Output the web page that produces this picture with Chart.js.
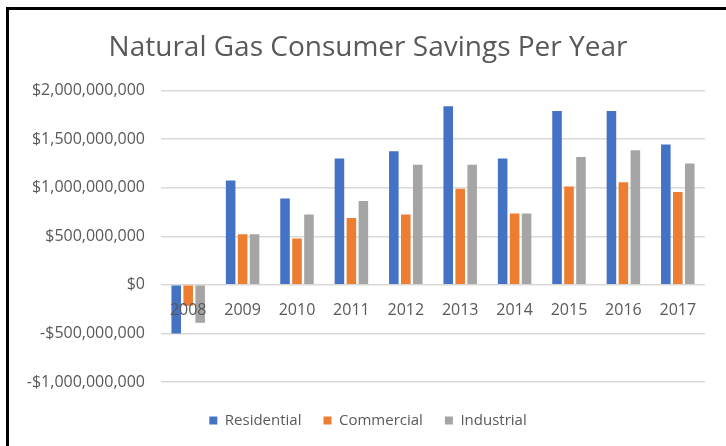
<!DOCTYPE html>
<html>
<head>
<meta charset="utf-8">
<script src="https://cdn.jsdelivr.net/npm/chart.js@4.4.1/dist/chart.umd.min.js"></script>
<style>
  body { margin: 0; background: #fff; }
  .wrap { position: absolute; left: 0; top: 0; width: 726px; height: 446px; }
  .frame {
    position: absolute; left: 6px; top: 7px; width: 800px; height: 500px;
    border-left: 3px solid #000; border-top: 3px solid #000; pointer-events: none;
  }
</style>
</head>
<body>
<div class="wrap"><canvas id="chart"></canvas></div>
<div class="frame"></div>
<script>
const years = ["2008", "2009", "2010", "2011", "2012", "2013", "2014", "2015", "2016", "2017"];
const residential = [-500e6, 1075e6, 890e6, 1300e6, 1375e6, 1840e6, 1300e6, 1790e6, 1790e6, 1445e6];
const commercial = [-215e6, 520e6, 478e6, 688e6, 725e6, 990e6, 736e6, 1012e6, 1057e6, 956e6];
const industrial = [-390e6, 520e6, 725e6, 863e6, 1236e6, 1236e6, 736e6, 1316e6, 1385e6, 1250e6];

const textColor = "#595959";
const gridColor = "#D9D9D9";

function money(v) {
  const s = "$" + Math.abs(v).toLocaleString("en-US");
  return v < 0 ? "-" + s : s;
}

const ctx = document.getElementById("chart");

new Chart(ctx, {
  type: "bar",
  data: {
    labels: years,
    datasets: [
      { label: "Residential", data: residential, backgroundColor: "#4472C4", xAxisID: "x", yAxisID: "y" },
      { label: "Commercial", data: commercial, backgroundColor: "#ED7D31", xAxisID: "x", yAxisID: "y" },
      { label: "Industrial", data: industrial, backgroundColor: "#A5A5A5", xAxisID: "x", yAxisID: "y" },
    ],
  },
  options: {
    responsive: true,
    maintainAspectRatio: false,
    animation: false,
    barPercentage: 0.8,
    categoryPercentage: 0.66,
    layout: { padding: { left: 10, right: 0, top: 31, bottom: 8 } },
    plugins: {
      title: {
        display: true,
        text: "Natural Gas Consumer Savings Per Year",
        color: textColor,
        font: { family: "Open Sans", size: 28, weight: "normal" },
        padding: { top: 0, bottom: 26 },
      },
      legend: {
        position: "bottom",
        labels: {
          color: textColor,
          font: { family: "Open Sans", size: 15 },
          boxWidth: 8,
          boxHeight: 8,
          padding: 22,
        },
      },
      tooltip: { enabled: false },
    },
    scales: {
      y: {
        min: -1e9,
        max: 2e9,
        grid: { color: gridColor, lineWidth: 1.5, drawTicks: false },
        border: { display: false },
        ticks: {
          stepSize: 5e8,
          color: textColor,
          font: { family: "Open Sans", size: 16 },
          padding: 16,
          callback: (v) => money(v),
        },
        afterFit: (scale) => { scale.width = 151; },
      },
      x: {
        position: { y: 0 },
        grid: { display: false },
        border: { display: false },
        ticks: {
          z: 1, // year labels sit on top of the 2008 bars
          color: textColor,
          font: { family: "Open Sans", size: 16 },
          padding: 8,
        },
      },
      // empty axes, only used as spacers
      gap: {
        type: "category",
        position: "bottom",
        grid: { display: false },
        border: { display: false },
        ticks: { display: false },
        afterFit: (scale) => { scale.height = 9; },
      },
      gapRight: {
        type: "linear",
        position: "right",
        grid: { display: false },
        border: { display: false },
        ticks: { display: false },
        afterFit: (scale) => { scale.width = 21; },
      },
    },
  },
});
</script>
</body>
</html>
